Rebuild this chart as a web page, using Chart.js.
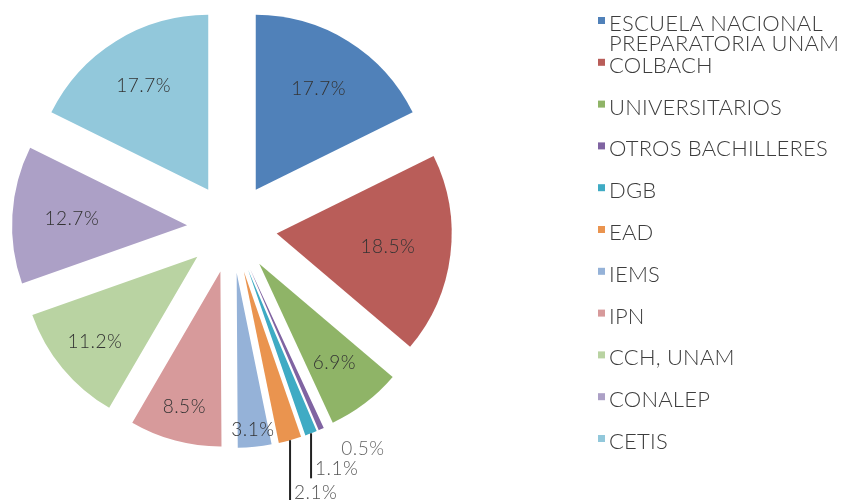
<!DOCTYPE html>
<html>
<head>
<meta charset="utf-8">
<script src="https://cdn.jsdelivr.net/npm/chart.js@4.4.1/dist/chart.umd.min.js"></script>
<style>
  html, body { margin: 0; padding: 0; background: #fff; }
  #wrap { width: 841px; height: 500px; }
</style>
</head>
<body>
<div id="wrap"><canvas id="myChart" width="841" height="500"></canvas></div>
<script>
const ctx = document.getElementById('myChart');

// categories (first one wraps on two lines in the legend)
const schools = [
  ['ESCUELA NACIONAL', 'PREPARATORIA UNAM'],
  'COLBACH',
  'UNIVERSITARIOS',
  'OTROS BACHILLERES',
  'DGB',
  'EAD',
  'IEMS',
  'IPN',
  'CCH, UNAM',
  'CONALEP',
  'CETIS'
];

// percent of students
const shares = [17.7, 18.5, 6.9, 0.5, 1.1, 2.1, 3.1, 8.5, 11.2, 12.7, 17.7];

const colors = [
  '#5081b9', '#b95d59', '#8fb467', '#8064a2', '#3fabc4', '#ea944f',
  '#95b2d8', '#d79a9b', '#b9d3a2', '#aca0c6', '#92c8db'
];

const FONT = 'Lato, "Open Sans", sans-serif';
const EXPLODE = 45; // every slice pulled out by this much

// how far out (share of radius) each inside label sits
const labelR = [0.68, 0.64, 0.71, 0, 0, 0, 0.9, 0.8, 0.76, 0.66, 0.7];
// small slices get a leader line dropping down (px), 0 = no line
const drop = {3: 0, 4: 45, 5: 62};

// chart.js' own "offset" also shrinks thin slices, so just shift each arc instead
const explode = {
  id: 'explode',
  beforeDatasetsDraw(chart) {
    chart.getDatasetMeta(0).data.forEach(arc => {
      if (arc._exploded) return;
      const orig = arc.draw.bind(arc);
      arc.draw = function(c) {
        const mid = (this.startAngle + this.endAngle) / 2;
        c.save();
        c.translate(Math.cos(mid) * EXPLODE, Math.sin(mid) * EXPLODE);
        orig(c);
        c.restore();
      };
      arc._exploded = true;
    });
  }
};

const pctLabels = {
  id: 'pctLabels',
  afterDatasetsDraw(chart) {
    const c = chart.ctx;
    const meta = chart.getDatasetMeta(0);
    c.save();
    c.font = '300 19px ' + FONT;
    c.letterSpacing = '0.5px';
    c.textBaseline = 'middle';
    meta.data.forEach((arc, i) => {
      const v = shares[i];
      const p = arc.getProps(['x', 'y', 'startAngle', 'endAngle', 'outerRadius'], true);
      const mid = (p.startAngle + p.endAngle) / 2;
      const cs = Math.cos(mid), sn = Math.sin(mid);
      const txt = v.toFixed(1) + '%';
      if (v < 2.5) {
        const tx = p.x + cs * (EXPLODE + p.outerRadius);
        const ty = p.y + sn * (EXPLODE + p.outerRadius);
        c.textAlign = 'left';
        if (!drop[i]) {
          c.fillStyle = '#666';
          c.fillText(txt, tx + 20, ty + 20);
        } else {
          c.strokeStyle = '#222';
          c.lineWidth = 2;
          c.beginPath();
          c.moveTo(tx, ty);
          c.lineTo(tx, ty + drop[i]);
          c.stroke();
          c.fillStyle = '#555';
          c.fillText(txt, tx + 4, ty + drop[i] - 9);
        }
        return;
      }
      const d = EXPLODE + p.outerRadius * labelR[i];
      c.textAlign = 'center';
      c.fillStyle = '#333';
      c.fillText(txt, p.x + cs * d, p.y + sn * d);
    });
    c.restore();
  }
};

// legend on the right, drawn by hand so the two-line label doesn't push the others down
const sideLegend = {
  id: 'sideLegend',
  afterDraw(chart) {
    const c = chart.ctx;
    c.save();
    c.font = '300 22px ' + FONT;
    c.letterSpacing = '0.2px';
    c.textBaseline = 'middle';
    c.textAlign = 'left';
    schools.forEach((s, i) => {
      const cy = 24 + i * 41.8;
      c.fillStyle = colors[i];
      c.fillRect(598, cy - 7, 7, 7);
      c.fillStyle = '#3d3d3d';
      const lines = Array.isArray(s) ? s : [s];
      lines.forEach((ln, k) => c.fillText(ln, 609, cy + k * 20));
    });
    c.restore();
  }
};

let cc = new Chart(ctx, {
  type: 'pie',
  data: {
    labels: schools,
    datasets: [{
      data: shares,
      backgroundColor: colors,
      borderWidth: 0,
      radius: 175
    }]
  },
  options: {
    responsive: false,
    animation: false,
    layout: { padding: { left: 0, top: 0, right: 377, bottom: 44 } },
    plugins: {
      legend: { display: false },
      tooltip: { enabled: false }
    }
  },
  plugins: [explode, pctLabels, sideLegend]
});
</script>
</body>
</html>
